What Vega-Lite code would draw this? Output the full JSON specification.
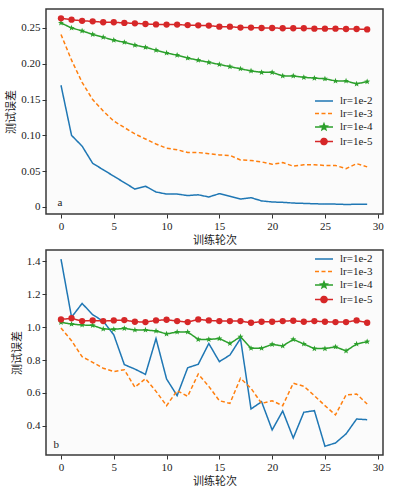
{
"$schema": "https://vega.github.io/schema/vega-lite/v6.json",
"padding": {"left": 5, "top": 8, "right": 5, "bottom": 5},
"background": "white",
"config": {
  "font": "Liberation Serif, Times New Roman, DejaVu Serif, Noto Sans CJK SC, serif",
  "view": {"stroke": "#3a3a3a", "strokeWidth": 1.5, "fill": "#fbfbfb"},
  "axis": {"domain": false, "grid": false, "tickColor": "#333333", "tickSize": 4, "labelFont": "Liberation Serif, Times New Roman, DejaVu Serif, serif", "labelFontSize": 11, "labelColor": "#222222", "titleFont": "Noto Sans CJK SC", "titleFontSize": 11, "titleFontWeight": "normal", "titleColor": "#222222", "labelPadding": 2, "titlePadding": 4},
  "axisX": {"titleBaseline": "top", "titlePadding": 3.5},
  "legend": {"orient": "none", "title": null, "symbolSize": 100, "labelOffset": 10, "rowPadding": 1.5, "labelFontSize": 11, "labelFont": "Liberation Serif, Times New Roman, DejaVu Serif, serif", "labelColor": "#222222", "symbolStrokeWidth": 1.5},
  "concat": {"spacing": 2}
},
"resolve": {"scale": {"color": "independent", "strokeDash": "independent", "shape": "independent"}, "legend": {"color": "independent"}},
"datasets": {
"a": [
{"epoch":0,"lr":"lr=1e-2","err":0.170},{"epoch":1,"lr":"lr=1e-2","err":0.100},{"epoch":2,"lr":"lr=1e-2","err":0.085},{"epoch":3,"lr":"lr=1e-2","err":0.061},{"epoch":4,"lr":"lr=1e-2","err":0.052},{"epoch":5,"lr":"lr=1e-2","err":0.043},{"epoch":6,"lr":"lr=1e-2","err":0.034},{"epoch":7,"lr":"lr=1e-2","err":0.025},{"epoch":8,"lr":"lr=1e-2","err":0.029},{"epoch":9,"lr":"lr=1e-2","err":0.021},{"epoch":10,"lr":"lr=1e-2","err":0.018},{"epoch":11,"lr":"lr=1e-2","err":0.018},{"epoch":12,"lr":"lr=1e-2","err":0.016},{"epoch":13,"lr":"lr=1e-2","err":0.017},{"epoch":14,"lr":"lr=1e-2","err":0.014},{"epoch":15,"lr":"lr=1e-2","err":0.0186},{"epoch":16,"lr":"lr=1e-2","err":0.015},{"epoch":17,"lr":"lr=1e-2","err":0.011},{"epoch":18,"lr":"lr=1e-2","err":0.013},{"epoch":19,"lr":"lr=1e-2","err":0.0085},{"epoch":20,"lr":"lr=1e-2","err":0.007},{"epoch":21,"lr":"lr=1e-2","err":0.0065},{"epoch":22,"lr":"lr=1e-2","err":0.0055},{"epoch":23,"lr":"lr=1e-2","err":0.005},{"epoch":24,"lr":"lr=1e-2","err":0.0045},{"epoch":25,"lr":"lr=1e-2","err":0.004},{"epoch":26,"lr":"lr=1e-2","err":0.004},{"epoch":27,"lr":"lr=1e-2","err":0.0035},{"epoch":28,"lr":"lr=1e-2","err":0.0038},{"epoch":29,"lr":"lr=1e-2","err":0.0038},
{"epoch":0,"lr":"lr=1e-3","err":0.241},{"epoch":1,"lr":"lr=1e-3","err":0.205},{"epoch":2,"lr":"lr=1e-3","err":0.174},{"epoch":3,"lr":"lr=1e-3","err":0.150},{"epoch":4,"lr":"lr=1e-3","err":0.134},{"epoch":5,"lr":"lr=1e-3","err":0.120},{"epoch":6,"lr":"lr=1e-3","err":0.111},{"epoch":7,"lr":"lr=1e-3","err":0.102},{"epoch":8,"lr":"lr=1e-3","err":0.095},{"epoch":9,"lr":"lr=1e-3","err":0.088},{"epoch":10,"lr":"lr=1e-3","err":0.082},{"epoch":11,"lr":"lr=1e-3","err":0.080},{"epoch":12,"lr":"lr=1e-3","err":0.076},{"epoch":13,"lr":"lr=1e-3","err":0.076},{"epoch":14,"lr":"lr=1e-3","err":0.0745},{"epoch":15,"lr":"lr=1e-3","err":0.0726},{"epoch":16,"lr":"lr=1e-3","err":0.072},{"epoch":17,"lr":"lr=1e-3","err":0.0656},{"epoch":18,"lr":"lr=1e-3","err":0.065},{"epoch":19,"lr":"lr=1e-3","err":0.063},{"epoch":20,"lr":"lr=1e-3","err":0.0596},{"epoch":21,"lr":"lr=1e-3","err":0.062},{"epoch":22,"lr":"lr=1e-3","err":0.057},{"epoch":23,"lr":"lr=1e-3","err":0.059},{"epoch":24,"lr":"lr=1e-3","err":0.059},{"epoch":25,"lr":"lr=1e-3","err":0.058},{"epoch":26,"lr":"lr=1e-3","err":0.058},{"epoch":27,"lr":"lr=1e-3","err":0.0535},{"epoch":28,"lr":"lr=1e-3","err":0.0605},{"epoch":29,"lr":"lr=1e-3","err":0.056},
{"epoch":0,"lr":"lr=1e-4","err":0.257},{"epoch":1,"lr":"lr=1e-4","err":0.250},{"epoch":2,"lr":"lr=1e-4","err":0.246},{"epoch":3,"lr":"lr=1e-4","err":0.241},{"epoch":4,"lr":"lr=1e-4","err":0.237},{"epoch":5,"lr":"lr=1e-4","err":0.233},{"epoch":6,"lr":"lr=1e-4","err":0.230},{"epoch":7,"lr":"lr=1e-4","err":0.226},{"epoch":8,"lr":"lr=1e-4","err":0.223},{"epoch":9,"lr":"lr=1e-4","err":0.219},{"epoch":10,"lr":"lr=1e-4","err":0.215},{"epoch":11,"lr":"lr=1e-4","err":0.212},{"epoch":12,"lr":"lr=1e-4","err":0.208},{"epoch":13,"lr":"lr=1e-4","err":0.205},{"epoch":14,"lr":"lr=1e-4","err":0.202},{"epoch":15,"lr":"lr=1e-4","err":0.199},{"epoch":16,"lr":"lr=1e-4","err":0.196},{"epoch":17,"lr":"lr=1e-4","err":0.193},{"epoch":18,"lr":"lr=1e-4","err":0.190},{"epoch":19,"lr":"lr=1e-4","err":0.188},{"epoch":20,"lr":"lr=1e-4","err":0.188},{"epoch":21,"lr":"lr=1e-4","err":0.183},{"epoch":22,"lr":"lr=1e-4","err":0.183},{"epoch":23,"lr":"lr=1e-4","err":0.181},{"epoch":24,"lr":"lr=1e-4","err":0.180},{"epoch":25,"lr":"lr=1e-4","err":0.179},{"epoch":26,"lr":"lr=1e-4","err":0.176},{"epoch":27,"lr":"lr=1e-4","err":0.176},{"epoch":28,"lr":"lr=1e-4","err":0.172},{"epoch":29,"lr":"lr=1e-4","err":0.175},
{"epoch":0,"lr":"lr=1e-5","err":0.2635},{"epoch":1,"lr":"lr=1e-5","err":0.2616},{"epoch":2,"lr":"lr=1e-5","err":0.260},{"epoch":3,"lr":"lr=1e-5","err":0.2593},{"epoch":4,"lr":"lr=1e-5","err":0.258},{"epoch":5,"lr":"lr=1e-5","err":0.258},{"epoch":6,"lr":"lr=1e-5","err":0.257},{"epoch":7,"lr":"lr=1e-5","err":0.2565},{"epoch":8,"lr":"lr=1e-5","err":0.2556},{"epoch":9,"lr":"lr=1e-5","err":0.255},{"epoch":10,"lr":"lr=1e-5","err":0.2547},{"epoch":11,"lr":"lr=1e-5","err":0.2547},{"epoch":12,"lr":"lr=1e-5","err":0.254},{"epoch":13,"lr":"lr=1e-5","err":0.2537},{"epoch":14,"lr":"lr=1e-5","err":0.2533},{"epoch":15,"lr":"lr=1e-5","err":0.2518},{"epoch":16,"lr":"lr=1e-5","err":0.2518},{"epoch":17,"lr":"lr=1e-5","err":0.2505},{"epoch":18,"lr":"lr=1e-5","err":0.2505},{"epoch":19,"lr":"lr=1e-5","err":0.250},{"epoch":20,"lr":"lr=1e-5","err":0.250},{"epoch":21,"lr":"lr=1e-5","err":0.2496},{"epoch":22,"lr":"lr=1e-5","err":0.2496},{"epoch":23,"lr":"lr=1e-5","err":0.2496},{"epoch":24,"lr":"lr=1e-5","err":0.249},{"epoch":25,"lr":"lr=1e-5","err":0.249},{"epoch":26,"lr":"lr=1e-5","err":0.249},{"epoch":27,"lr":"lr=1e-5","err":0.2486},{"epoch":28,"lr":"lr=1e-5","err":0.2486},{"epoch":29,"lr":"lr=1e-5","err":0.248}
],
"b": [
{"epoch":0,"lr":"lr=1e-2","err":1.412},{"epoch":1,"lr":"lr=1e-2","err":1.06},{"epoch":2,"lr":"lr=1e-2","err":1.143},{"epoch":3,"lr":"lr=1e-2","err":1.075},{"epoch":4,"lr":"lr=1e-2","err":1.035},{"epoch":5,"lr":"lr=1e-2","err":0.953},{"epoch":6,"lr":"lr=1e-2","err":0.772},{"epoch":7,"lr":"lr=1e-2","err":0.745},{"epoch":8,"lr":"lr=1e-2","err":0.713},{"epoch":9,"lr":"lr=1e-2","err":0.93},{"epoch":10,"lr":"lr=1e-2","err":0.685},{"epoch":11,"lr":"lr=1e-2","err":0.584},{"epoch":12,"lr":"lr=1e-2","err":0.753},{"epoch":13,"lr":"lr=1e-2","err":0.774},{"epoch":14,"lr":"lr=1e-2","err":0.90},{"epoch":15,"lr":"lr=1e-2","err":0.79},{"epoch":16,"lr":"lr=1e-2","err":0.83},{"epoch":17,"lr":"lr=1e-2","err":0.93},{"epoch":18,"lr":"lr=1e-2","err":0.503},{"epoch":19,"lr":"lr=1e-2","err":0.547},{"epoch":20,"lr":"lr=1e-2","err":0.376},{"epoch":21,"lr":"lr=1e-2","err":0.491},{"epoch":22,"lr":"lr=1e-2","err":0.327},{"epoch":23,"lr":"lr=1e-2","err":0.483},{"epoch":24,"lr":"lr=1e-2","err":0.493},{"epoch":25,"lr":"lr=1e-2","err":0.277},{"epoch":26,"lr":"lr=1e-2","err":0.297},{"epoch":27,"lr":"lr=1e-2","err":0.352},{"epoch":28,"lr":"lr=1e-2","err":0.442},{"epoch":29,"lr":"lr=1e-2","err":0.438},
{"epoch":0,"lr":"lr=1e-3","err":0.994},{"epoch":1,"lr":"lr=1e-3","err":0.917},{"epoch":2,"lr":"lr=1e-3","err":0.82},{"epoch":3,"lr":"lr=1e-3","err":0.786},{"epoch":4,"lr":"lr=1e-3","err":0.75},{"epoch":5,"lr":"lr=1e-3","err":0.73},{"epoch":6,"lr":"lr=1e-3","err":0.741},{"epoch":7,"lr":"lr=1e-3","err":0.635},{"epoch":8,"lr":"lr=1e-3","err":0.687},{"epoch":9,"lr":"lr=1e-3","err":0.61},{"epoch":10,"lr":"lr=1e-3","err":0.523},{"epoch":11,"lr":"lr=1e-3","err":0.614},{"epoch":12,"lr":"lr=1e-3","err":0.58},{"epoch":13,"lr":"lr=1e-3","err":0.715},{"epoch":14,"lr":"lr=1e-3","err":0.64},{"epoch":15,"lr":"lr=1e-3","err":0.553},{"epoch":16,"lr":"lr=1e-3","err":0.537},{"epoch":17,"lr":"lr=1e-3","err":0.689},{"epoch":18,"lr":"lr=1e-3","err":0.628},{"epoch":19,"lr":"lr=1e-3","err":0.537},{"epoch":20,"lr":"lr=1e-3","err":0.553},{"epoch":21,"lr":"lr=1e-3","err":0.523},{"epoch":22,"lr":"lr=1e-3","err":0.659},{"epoch":23,"lr":"lr=1e-3","err":0.641},{"epoch":24,"lr":"lr=1e-3","err":0.584},{"epoch":25,"lr":"lr=1e-3","err":0.523},{"epoch":26,"lr":"lr=1e-3","err":0.467},{"epoch":27,"lr":"lr=1e-3","err":0.588},{"epoch":28,"lr":"lr=1e-3","err":0.594},{"epoch":29,"lr":"lr=1e-3","err":0.533},
{"epoch":0,"lr":"lr=1e-4","err":1.028},{"epoch":1,"lr":"lr=1e-4","err":1.018},{"epoch":2,"lr":"lr=1e-4","err":1.012},{"epoch":3,"lr":"lr=1e-4","err":1.01},{"epoch":4,"lr":"lr=1e-4","err":0.988},{"epoch":5,"lr":"lr=1e-4","err":0.986},{"epoch":6,"lr":"lr=1e-4","err":0.992},{"epoch":7,"lr":"lr=1e-4","err":0.982},{"epoch":8,"lr":"lr=1e-4","err":0.982},{"epoch":9,"lr":"lr=1e-4","err":0.976},{"epoch":10,"lr":"lr=1e-4","err":0.958},{"epoch":11,"lr":"lr=1e-4","err":0.97},{"epoch":12,"lr":"lr=1e-4","err":0.97},{"epoch":13,"lr":"lr=1e-4","err":0.925},{"epoch":14,"lr":"lr=1e-4","err":0.925},{"epoch":15,"lr":"lr=1e-4","err":0.93},{"epoch":16,"lr":"lr=1e-4","err":0.90},{"epoch":17,"lr":"lr=1e-4","err":0.941},{"epoch":18,"lr":"lr=1e-4","err":0.871},{"epoch":19,"lr":"lr=1e-4","err":0.871},{"epoch":20,"lr":"lr=1e-4","err":0.895},{"epoch":21,"lr":"lr=1e-4","err":0.885},{"epoch":22,"lr":"lr=1e-4","err":0.925},{"epoch":23,"lr":"lr=1e-4","err":0.897},{"epoch":24,"lr":"lr=1e-4","err":0.869},{"epoch":25,"lr":"lr=1e-4","err":0.869},{"epoch":26,"lr":"lr=1e-4","err":0.88},{"epoch":27,"lr":"lr=1e-4","err":0.855},{"epoch":28,"lr":"lr=1e-4","err":0.897},{"epoch":29,"lr":"lr=1e-4","err":0.911},
{"epoch":0,"lr":"lr=1e-5","err":1.046},{"epoch":1,"lr":"lr=1e-5","err":1.053},{"epoch":2,"lr":"lr=1e-5","err":1.036},{"epoch":3,"lr":"lr=1e-5","err":1.04},{"epoch":4,"lr":"lr=1e-5","err":1.036},{"epoch":5,"lr":"lr=1e-5","err":1.04},{"epoch":6,"lr":"lr=1e-5","err":1.042},{"epoch":7,"lr":"lr=1e-5","err":1.032},{"epoch":8,"lr":"lr=1e-5","err":1.03},{"epoch":9,"lr":"lr=1e-5","err":1.04},{"epoch":10,"lr":"lr=1e-5","err":1.044},{"epoch":11,"lr":"lr=1e-5","err":1.036},{"epoch":12,"lr":"lr=1e-5","err":1.03},{"epoch":13,"lr":"lr=1e-5","err":1.046},{"epoch":14,"lr":"lr=1e-5","err":1.04},{"epoch":15,"lr":"lr=1e-5","err":1.036},{"epoch":16,"lr":"lr=1e-5","err":1.036},{"epoch":17,"lr":"lr=1e-5","err":1.036},{"epoch":18,"lr":"lr=1e-5","err":1.026},{"epoch":19,"lr":"lr=1e-5","err":1.032},{"epoch":20,"lr":"lr=1e-5","err":1.032},{"epoch":21,"lr":"lr=1e-5","err":1.036},{"epoch":22,"lr":"lr=1e-5","err":1.038},{"epoch":23,"lr":"lr=1e-5","err":1.032},{"epoch":24,"lr":"lr=1e-5","err":1.036},{"epoch":25,"lr":"lr=1e-5","err":1.032},{"epoch":26,"lr":"lr=1e-5","err":1.03},{"epoch":27,"lr":"lr=1e-5","err":1.03},{"epoch":28,"lr":"lr=1e-5","err":1.04},{"epoch":29,"lr":"lr=1e-5","err":1.026}
]
},
"vconcat": [
{
  "width": 337, "height": 205,
  "layer": [
    {"data": {"name": "a"},
     "mark": {"type": "line", "strokeWidth": 1.5},
     "encoding": {
       "x": {"field": "epoch", "type": "quantitative", "scale": {"domain": [-1.42, 30.5], "nice": false, "zero": false}, "axis": {"values": [0,5,10,15,20,25,30], "title": "训练轮次"}},
       "y": {"field": "err", "type": "quantitative", "scale": {"domain": [-0.0098, 0.2765], "nice": false, "zero": false}, "axis": {"values": [0,0.05,0.1,0.15,0.2,0.25], "labelExpr": "datum.value===0?'0':format(datum.value,'.2f')", "title": "测试误差"}},
       "color": {"field": "lr", "type": "nominal", "scale": {"domain": ["lr=1e-2","lr=1e-3","lr=1e-4","lr=1e-5"], "range": ["#1f77b4","#ff7f0e","#2ca02c","#d62728"]},
         "legend": {"legendX": 272, "legendY": 86,
           "encode": {"symbols": {"update": {
             "shape": {"signal": "datum.value==='lr=1e-5' ? 'M-1.8,0H1.8M-0.62,0A0.62,0.62,0,1,0,0.62,0A0.62,0.62,0,1,0,-0.62,0Z' : datum.value==='lr=1e-4' ? 'M-1.8,0H1.8M0,-0.65L0.167,-0.23L0.618,-0.2L0.27,0.088L0.382,0.526L0,0.284L-0.382,0.526L-0.27,0.088L-0.618,-0.2L-0.167,-0.23Z' : 'M-1.8,0H1.8'"},
             "stroke": {"signal": "datum.value==='lr=1e-2'?'#1f77b4':datum.value==='lr=1e-3'?'#ff7f0e':datum.value==='lr=1e-4'?'#2ca02c':'#d62728'"},
             "fill": {"signal": "datum.value==='lr=1e-4'?'#2ca02c':datum.value==='lr=1e-5'?'#d62728':'transparent'"},
             "strokeDash": {"signal": "datum.value==='lr=1e-3'?[4,2.5]:[1,0]"},
             "strokeWidth": {"value": 1.5},
             "size": {"value": 100},
             "opacity": {"value": 1}
           }}}}},
       "strokeDash": {"field": "lr", "type": "nominal", "scale": {"domain": ["lr=1e-2","lr=1e-3","lr=1e-4","lr=1e-5"], "range": [[1,0],[4,2.5],[1,0],[1,0]]}, "legend": null}
     }},
    {"data": {"name": "a"},
     "transform": [{"filter": {"field": "lr", "oneOf": ["lr=1e-4","lr=1e-5"]}}],
     "mark": {"type": "point", "filled": true, "size": 40, "opacity": 1},
     "encoding": {
       "x": {"field": "epoch", "type": "quantitative"},
       "y": {"field": "err", "type": "quantitative"},
       "color": {"field": "lr", "type": "nominal", "legend": null},
       "shape": {"field": "lr", "type": "nominal", "scale": {"domain": ["lr=1e-4","lr=1e-5"], "range": ["M0,-1L0.247,-0.34L0.951,-0.309L0.399,0.13L0.588,0.809L0,0.42L-0.588,0.809L-0.399,0.13L-0.951,-0.309L-0.247,-0.34Z","circle"]}, "legend": null}
     }},
    {"data": {"values": [{"tag": "a"}]},
     "mark": {"type": "text", "font": "Liberation Serif, Times New Roman, DejaVu Serif, serif", "fontSize": 11, "color": "#222222", "align": "center", "baseline": "middle"},
     "encoding": {
       "x": {"datum": -0.1, "type": "quantitative"},
       "y": {"datum": 0.0056, "type": "quantitative"},
       "text": {"field": "tag", "type": "nominal"}
     }}
  ]
},
{
  "width": 337, "height": 205,
  "layer": [
    {"data": {"name": "b"},
     "mark": {"type": "line", "strokeWidth": 1.5},
     "encoding": {
       "x": {"field": "epoch", "type": "quantitative", "scale": {"domain": [-1.42, 30.5], "nice": false, "zero": false}, "axis": {"values": [0,5,10,15,20,25,30], "title": "训练轮次"}},
       "y": {"field": "err", "type": "quantitative", "scale": {"domain": [0.224, 1.467], "nice": false, "zero": false}, "axis": {"values": [0.4,0.6,0.8,1.0,1.2,1.4], "format": ".1f", "title": "测试误差"}},
       "color": {"field": "lr", "type": "nominal", "scale": {"domain": ["lr=1e-2","lr=1e-3","lr=1e-4","lr=1e-5"], "range": ["#1f77b4","#ff7f0e","#2ca02c","#d62728"]},
         "legend": {"legendX": 272, "legendY": 3,
           "encode": {"symbols": {"update": {
             "shape": {"signal": "datum.value==='lr=1e-5' ? 'M-1.8,0H1.8M-0.62,0A0.62,0.62,0,1,0,0.62,0A0.62,0.62,0,1,0,-0.62,0Z' : datum.value==='lr=1e-4' ? 'M-1.8,0H1.8M0,-0.65L0.167,-0.23L0.618,-0.2L0.27,0.088L0.382,0.526L0,0.284L-0.382,0.526L-0.27,0.088L-0.618,-0.2L-0.167,-0.23Z' : 'M-1.8,0H1.8'"},
             "stroke": {"signal": "datum.value==='lr=1e-2'?'#1f77b4':datum.value==='lr=1e-3'?'#ff7f0e':datum.value==='lr=1e-4'?'#2ca02c':'#d62728'"},
             "fill": {"signal": "datum.value==='lr=1e-4'?'#2ca02c':datum.value==='lr=1e-5'?'#d62728':'transparent'"},
             "strokeDash": {"signal": "datum.value==='lr=1e-3'?[4,2.5]:[1,0]"},
             "strokeWidth": {"value": 1.5},
             "size": {"value": 100},
             "opacity": {"value": 1}
           }}}}},
       "strokeDash": {"field": "lr", "type": "nominal", "scale": {"domain": ["lr=1e-2","lr=1e-3","lr=1e-4","lr=1e-5"], "range": [[1,0],[4,2.5],[1,0],[1,0]]}, "legend": null}
     }},
    {"data": {"name": "b"},
     "transform": [{"filter": {"field": "lr", "oneOf": ["lr=1e-4","lr=1e-5"]}}],
     "mark": {"type": "point", "filled": true, "size": 40, "opacity": 1},
     "encoding": {
       "x": {"field": "epoch", "type": "quantitative"},
       "y": {"field": "err", "type": "quantitative"},
       "color": {"field": "lr", "type": "nominal", "legend": null},
       "shape": {"field": "lr", "type": "nominal", "scale": {"domain": ["lr=1e-4","lr=1e-5"], "range": ["M0,-1L0.247,-0.34L0.951,-0.309L0.399,0.13L0.588,0.809L0,0.42L-0.588,0.809L-0.399,0.13L-0.951,-0.309L-0.247,-0.34Z","circle"]}, "legend": null}
     }},
    {"data": {"values": [{"tag": "b"}]},
     "mark": {"type": "text", "font": "Liberation Serif, Times New Roman, DejaVu Serif, serif", "fontSize": 11, "color": "#222222", "align": "center", "baseline": "middle"},
     "encoding": {
       "x": {"datum": -0.45, "type": "quantitative"},
       "y": {"datum": 0.285, "type": "quantitative"},
       "text": {"field": "tag", "type": "nominal"}
     }}
  ]
}
]
}
